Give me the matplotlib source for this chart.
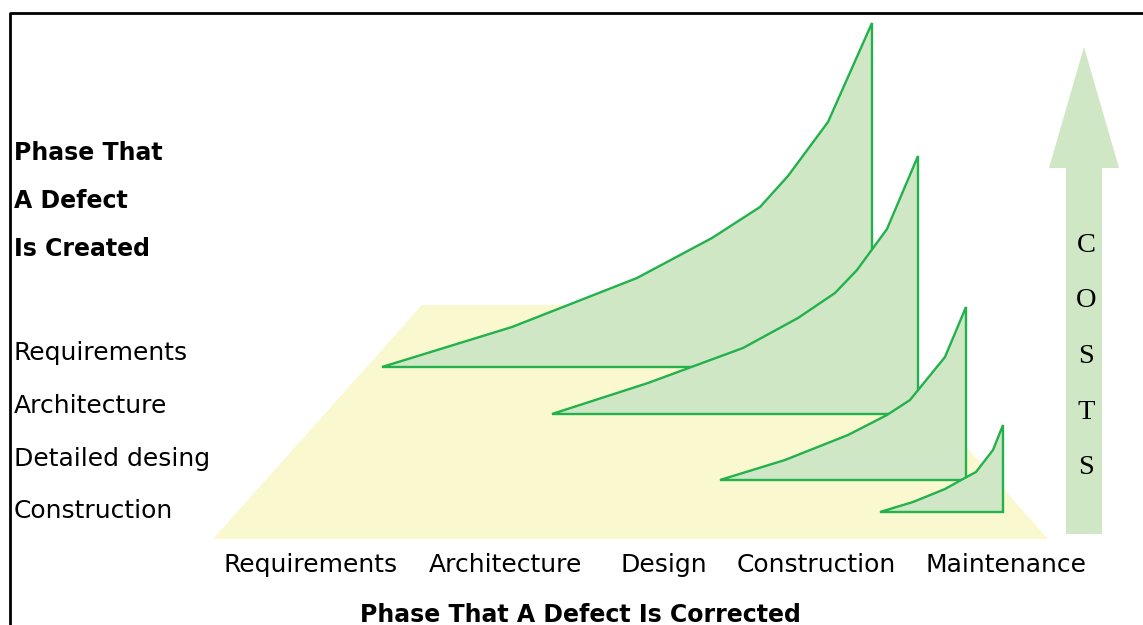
import matplotlib
matplotlib.use("Agg")
import matplotlib.pyplot as plt
from matplotlib.patches import Polygon

# ---------------- data ----------------
creation_phases = ["Requirements", "Architecture", "Detailed desing", "Construction"]
correction_phases = ["Requirements", "Architecture", "Design", "Construction", "Maintenance"]
y_title_lines = ["Phase That", "A Defect", "Is Created"]
x_title = "Phase That A Defect Is Corrected"
cost_letters = ["C", "O", "S", "T", "S"]

# cost curves (x position along correction axis, cost height above each baseline)
req_x = [382, 512, 637, 712, 760, 788, 828, 872]
req_cost = [0, 40, 89, 129, 160, 191, 245, 344]
arch_x = [552, 648, 743, 798, 835, 857, 887, 918]
arch_cost = [0, 31, 66, 96, 121, 144, 185, 258]
design_x = [720, 785, 848, 887, 910, 945, 966]
design_cost = [0, 20, 45, 65, 80, 123, 173]
constr_x = [880, 913, 945, 963, 976, 993, 1003]
constr_cost = [0, 10, 23, 33, 40, 62, 87]

# ---------------- layout / style ----------------
W, H = 1143, 625
baselines = [367, 414, 480, 512]
row_label_y = [360, 413, 466, 518]
bottom_label_x = [311, 505, 664, 816, 1006]
EDGE = "#22b14c"
FILL = "#d0e7c5"
YELLOW = "#faf8cf"

fig = plt.figure(figsize=(W / 100, H / 100), dpi=100)
ax = fig.add_axes([0, 0, 1, 1])
ax.set_xlim(0, W)
ax.set_ylim(H, 0)
ax.axis("off")

# frame
ax.plot([10, 10, W], [H, 13, 13], color="black", lw=2.0, solid_capstyle="butt", zorder=10)

# yellow floor
ax.add_patch(Polygon([(213, 539), (1048, 539), (840, 305), (422, 305)],
                     closed=True, facecolor=YELLOW, edgecolor="none", zorder=1))

# cost curves
curves = [(req_x, req_cost), (arch_x, arch_cost), (design_x, design_cost), (constr_x, constr_cost)]
for i, ((xs, cs), base) in enumerate(zip(curves, baselines)):
    pts = [(x, base - c) for x, c in zip(xs, cs)]
    pts.append((xs[-1], base))
    ax.add_patch(Polygon(pts, closed=True, facecolor=FILL, edgecolor=EDGE,
                         lw=1.7, joinstyle="miter", zorder=2 + i))

# COSTS arrow
arrow = [(1066, 534), (1102, 534), (1102, 168), (1119, 168), (1084, 47), (1049, 168), (1066, 168)]
ax.add_patch(Polygon(arrow, closed=True, facecolor=FILL, edgecolor="none", zorder=2))
for k, letter in enumerate(cost_letters):
    ax.text(1086, 245 + 55.7 * k, letter, fontsize=20.5, family="Liberation Serif",
            ha="center", va="center", zorder=12)

# left title
for k, line in enumerate(y_title_lines):
    ax.text(14, 160 + 48 * k, line, fontsize=17, fontweight="bold",
            ha="left", va="baseline", zorder=12)

# row labels
for lab, y in zip(creation_phases, row_label_y):
    ax.text(14, y, lab, fontsize=18, ha="left", va="baseline", zorder=12)

# bottom labels
for lab, x in zip(correction_phases, bottom_label_x):
    ax.text(x, 572, lab, fontsize=18, ha="center", va="baseline", zorder=12)

ax.text(580, 622, x_title, fontsize=17, fontweight="bold", ha="center", va="baseline", zorder=12)

fig.savefig("out.png", dpi=100)
